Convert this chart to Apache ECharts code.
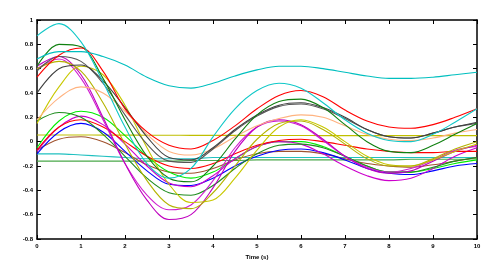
<!DOCTYPE html>
<html><head><meta charset="utf-8">
<script src="https://cdn.jsdelivr.net/npm/echarts@6/dist/echarts.min.js"></script>
<style>html,body{margin:0;padding:0;background:#fff}#c{width:503px;height:272px}</style>
</head><body><div id="c"></div>
<script>
// time samples (s)
var times = [0,0.5,1,1.5,2,2.5,3,3.5,4,4.5,5,5.5,6,6.5,7,7.5,8,8.5,9,9.5,10];
var xTicks = [0,1,2,3,4,5,6,7,8,9,10];
var yTicks = [-0.8,-0.6,-0.4,-0.2,0,0.2,0.4,0.6,0.8,1];

var cyanSteep = [0.87,0.97,0.82,0.49,0.12,-0.18,-0.30,-0.22,0.04,0.27,0.42,0.48,0.44,0.32,0.18,0.07,0.01,0.00,0.06,0.16,0.27];
var cyanSlow  = [0.68,0.74,0.74,0.70,0.63,0.53,0.46,0.44,0.48,0.54,0.59,0.62,0.62,0.60,0.57,0.54,0.52,0.52,0.53,0.55,0.57];
var cyanFlat  = [-0.10,-0.10,-0.11,-0.12,-0.13,-0.14,-0.14,-0.14,-0.13,-0.13,-0.13,-0.13,-0.13,-0.13,-0.13,-0.13,-0.13,-0.13,-0.13,-0.13,-0.13];
var greenFlat = [-0.16,-0.16,-0.16,-0.16,-0.16,-0.16,-0.16,-0.155,-0.155,-0.155,-0.15,-0.15,-0.15,-0.15,-0.15,-0.15,-0.15,-0.145,-0.145,-0.145,-0.14];
var oliveFlat = [0.055,0.055,0.055,0.054,0.054,0.053,0.053,0.052,0.052,0.052,0.051,0.051,0.051,0.05,0.05,0.05,0.05,0.05,0.05,0.05,0.05];
var brown     = [-0.07,0.02,0.04,0.0,-0.09,-0.19,-0.25,-0.26,-0.22,-0.15,-0.10,-0.08,-0.08,-0.10,-0.14,-0.18,-0.20,-0.21,-0.19,-0.16,-0.13];
var redA      = [0.53,0.71,0.77,0.58,0.27,0.08,-0.03,-0.06,0.01,0.13,0.27,0.38,0.42,0.37,0.26,0.17,0.12,0.11,0.14,0.20,0.27];
var redB      = [-0.07,0.12,0.18,0.12,0.0,-0.12,-0.20,-0.22,-0.18,-0.10,-0.03,0.01,0.02,0.0,-0.03,-0.06,-0.08,-0.09,-0.09,-0.08,-0.08];
var greenA    = [0.62,0.80,0.78,0.52,0.18,-0.12,-0.30,-0.33,-0.20,0.02,0.22,0.33,0.35,0.28,0.14,0.0,-0.08,-0.09,-0.03,0.06,0.15];
var greenB    = [0.17,0.24,0.20,0.06,-0.12,-0.30,-0.42,-0.44,-0.36,-0.22,-0.10,-0.03,-0.02,-0.05,-0.12,-0.20,-0.25,-0.25,-0.21,-0.16,-0.13];
var grayA     = [0.40,0.60,0.63,0.50,0.28,0.04,-0.13,-0.15,-0.05,0.10,0.22,0.30,0.32,0.28,0.20,0.10,0.04,0.03,0.07,0.12,0.16];
var grayB     = [0.58,0.70,0.66,0.48,0.22,-0.02,-0.16,-0.17,-0.06,0.09,0.21,0.29,0.31,0.27,0.19,0.10,0.04,0.03,0.07,0.12,0.15];
var peach     = [0.18,0.36,0.45,0.40,0.25,0.06,-0.08,-0.11,-0.06,0.04,0.13,0.19,0.22,0.20,0.13,0.06,0.02,0.01,0.03,0.07,0.10];
var oliveA    = [0.60,0.66,0.58,0.32,-0.02,-0.32,-0.52,-0.55,-0.42,-0.20,0.02,0.15,0.17,0.10,-0.02,-0.14,-0.20,-0.20,-0.14,-0.06,0.0];
var oliveB    = [0.15,0.45,0.62,0.55,0.30,-0.05,-0.35,-0.50,-0.48,-0.30,-0.07,0.12,0.18,0.12,0.0,-0.12,-0.19,-0.20,-0.15,-0.08,-0.02];
var magentaA  = [0.62,0.70,0.55,0.20,-0.18,-0.48,-0.64,-0.60,-0.38,-0.08,0.12,0.18,0.14,0.02,-0.12,-0.22,-0.26,-0.24,-0.16,-0.08,-0.03];
var magentaB  = [0.60,0.68,0.52,0.18,-0.18,-0.44,-0.56,-0.52,-0.32,-0.05,0.12,0.17,0.13,0.01,-0.12,-0.21,-0.25,-0.22,-0.15,-0.07,-0.04];
var magentaC  = [-0.08,0.12,0.21,0.14,-0.02,-0.20,-0.34,-0.37,-0.28,-0.14,-0.04,0.0,-0.02,-0.10,-0.20,-0.28,-0.32,-0.30,-0.22,-0.12,-0.05];
var lime      = [-0.05,0.17,0.25,0.20,0.05,-0.12,-0.25,-0.30,-0.25,-0.14,-0.04,0.0,0.0,-0.04,-0.12,-0.20,-0.25,-0.25,-0.22,-0.18,-0.15];
var blue      = [-0.10,0.08,0.15,0.08,-0.08,-0.24,-0.35,-0.36,-0.30,-0.20,-0.12,-0.07,-0.06,-0.09,-0.15,-0.22,-0.26,-0.27,-0.24,-0.20,-0.18];

var seriesList = [
  [greenFlat,'#4aa84a'],[oliveFlat,'#bfbf00'],[cyanFlat,'#20c0c0'],[brown,'#a0522d'],
  [blue,'#0000ff'],[lime,'#00ee00'],[magentaC,'#cc00cc'],[redB,'#ff0000'],[greenB,'#1e8c1e'],
  [magentaB,'#d020d0'],[magentaA,'#bf00bf'],[oliveB,'#c8c800'],[oliveA,'#b4b400'],
  [peach,'#ffb380'],[grayB,'#555555'],[grayA,'#404040'],[greenA,'#108010'],[redA,'#ff0000'],
  [cyanSlow,'#00bfbf'],[cyanSteep,'#10c8c8']
];

var chart = echarts.init(document.getElementById('c'), null, {renderer:'canvas'});
var lab = {fontFamily:'Liberation Sans', fontWeight:'bold', fontSize:6, color:'#000'};
var axLine = {onZero:false, lineStyle:{color:'#000', width:1.5}};
var tick = {inside:true, length:4, lineStyle:{color:'#000', width:1}};
var option = {
  animation:false,
  grid:{left:37, right:26, top:20, bottom:33},
  xAxis:[{
    type:'value', min:0, max:10, interval:1, position:'bottom',
    name:'Time (s)', nameLocation:'middle', nameGap:12,
    nameTextStyle:{fontFamily:'Liberation Sans', fontWeight:'bold', fontSize:6, color:'#000'},
    axisLine:axLine, axisTick:tick,
    axisLabel:Object.assign({margin:4}, lab), splitLine:{show:false}
  },{
    type:'value', min:0, max:10, interval:1, position:'top',
    axisLine:axLine, axisTick:tick,
    axisLabel:{show:false}, splitLine:{show:false}
  }],
  yAxis:[{
    type:'value', min:-0.8, max:1, interval:0.2, position:'left',
    axisLine:axLine, axisTick:tick,
    axisLabel:Object.assign({margin:4, formatter:function(v){return String(Math.round(v*10)/10);}}, lab),
    splitLine:{show:false}
  },{
    type:'value', min:-0.8, max:1, interval:0.2, position:'right',
    axisLine:axLine, axisTick:tick,
    axisLabel:{show:false}, splitLine:{show:false}
  }],
  series: seriesList.map(function(s){
    return {
      type:'line', smooth:0.35, symbol:'none', xAxisIndex:0, yAxisIndex:0,
      lineStyle:{color:s[1], width:1.1}, itemStyle:{color:s[1]},
      data: times.map(function(t,i){return [t, s[0][i]];})
    };
  })
};
chart.setOption(option);
</script></body></html>
